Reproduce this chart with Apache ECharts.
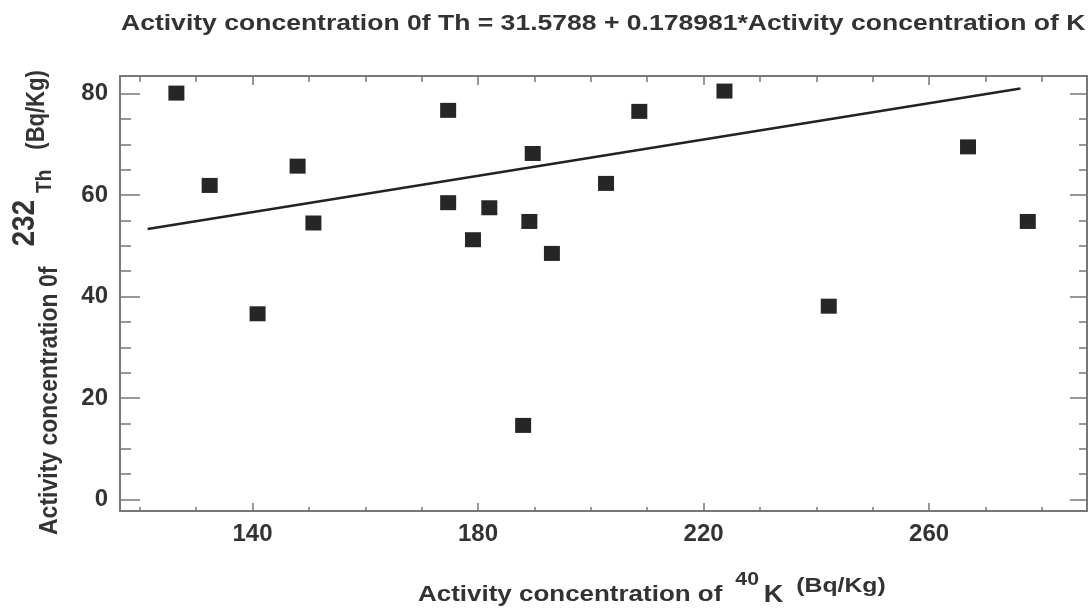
<!DOCTYPE html>
<html><head><meta charset="utf-8">
<script src="https://cdn.jsdelivr.net/npm/echarts@6/dist/echarts.min.js"></script>
<style>html,body{margin:0;padding:0;background:#fff}#c{width:1089px;height:610px}</style>
</head><body><div id="c"></div>
<script>
// Data
const kValues  = [126.5, 132.4, 140.9, 148.0, 150.8, 174.7, 174.7, 179.1, 182.0, 188.0, 189.1, 189.7, 193.1, 202.7, 208.6, 223.7, 242.2, 266.9, 277.5];
const thValues = [80.1, 61.9, 36.6, 65.7, 54.5, 76.7, 58.5, 51.2, 57.5, 14.6, 54.8, 68.2, 48.5, 62.3, 76.5, 80.5, 38.1, 69.5, 54.8];
const fitK  = [121.4, 276.2];
const fitTh = [53.3, 81.0];
const xMajorTicks = [140, 180, 220, 260];
const xMinorTicks = [120, 130, 150, 160, 170, 190, 200, 210, 230, 240, 250, 270, 280];
const yMajorTicks = [0, 20, 40, 60, 80];
const yMinorTicks = [5, 10, 15, 25, 30, 35, 45, 50, 55, 65, 70, 75];
const titleText = 'Activity concentration 0f Th = 31.5788 + 0.178981*Activity concentration of K';

const X_MIN = 116.5, X_MAX = 288, Y_MIN = -2.27, Y_MAX = 83.47;
const AX = '#777';
const FONT = 'Liberation Sans';
const TXT = '#333';

function xAx(pos, ticks, len, line, labels) {
  return {
    type: 'value', position: pos, min: X_MIN, max: X_MAX,
    axisLine: { show: line, onZero: false, lineStyle: { color: AX, width: 2 } },
    axisTick: { show: true, inside: true, length: len, customValues: ticks, lineStyle: { color: AX, width: 1.5 } },
    axisLabel: labels ? { show: true, customValues: ticks, fontSize: 24, fontWeight: 'bold', fontFamily: FONT, color: TXT, margin: 11 } : { show: false },
    splitLine: { show: false }
  };
}
function yAx(pos, ticks, len, line, labels) {
  return {
    type: 'value', position: pos, min: Y_MIN, max: Y_MAX,
    axisLine: { show: line, onZero: false, lineStyle: { color: AX, width: 2 } },
    axisTick: { show: true, inside: true, length: len, customValues: ticks, lineStyle: { color: AX, width: 1.5 } },
    axisLabel: labels ? { show: true, customValues: ticks, fontSize: 24, fontWeight: 'bold', fontFamily: FONT, color: TXT, margin: 12 } : { show: false },
    splitLine: { show: false }
  };
}

const chart = echarts.init(document.getElementById('c'), null, { renderer: 'canvas' });
chart.setOption({
  animation: false,
  backgroundColor: '#fff',
  grid: { left: 120, top: 76, right: 2, bottom: 99, containLabel: false },
  xAxis: [
    xAx('bottom', xMajorTicks, 8, true, true),
    xAx('bottom', xMinorTicks, 4, false, false),
    xAx('top', xMajorTicks, 9, true, false),
    xAx('top', xMinorTicks, 6, false, false)
  ],
  yAxis: [
    yAx('left', yMajorTicks, 20, true, true),
    yAx('left', yMinorTicks, 11, false, false),
    yAx('right', yMajorTicks, 17, true, false),
    yAx('right', yMinorTicks, 8, false, false)
  ],
  series: [
    {
      type: 'line', xAxisIndex: 0, yAxisIndex: 0,
      data: fitK.map((k, i) => [k, fitTh[i]]),
      showSymbol: false, symbol: 'none',
      lineStyle: { color: '#222', width: 2.5 }, z: 2
    },
    {
      type: 'scatter', xAxisIndex: 0, yAxisIndex: 0,
      data: kValues.map((k, i) => [k, thValues[i]]),
      symbol: 'rect', symbolSize: [16, 15],
      itemStyle: { color: '#262626', opacity: 1 }, z: 3
    }
  ],
  graphic: [
    {
      type: 'text', x: 121, y: 23.5, scaleX: 1.206,
      style: {
        text: titleText, fontSize: 22, fontWeight: 'bold', fontFamily: FONT, fill: TXT,
        align: 'left', verticalAlign: 'middle', textAlign: 'left', textVerticalAlign: 'middle'
      }
    },
    {
      type: 'text', x: 418, y: 595.4, scaleX: 1.18,
      style: {
        text: '{m|Activity concentration of}{s|40}{k|K}{u|(Bq/Kg)}',
        fill: TXT, fontFamily: FONT, fontWeight: 'bold', fontSize: 22,
        align: 'left', verticalAlign: 'middle', textAlign: 'left', textVerticalAlign: 'middle',
        rich: {
          m: { fontSize: 22, fontWeight: 'bold', fontFamily: FONT, padding: [0, 11, 0, 0], verticalAlign: 'middle' },
          s: { fontSize: 18, fontWeight: 'bold', fontFamily: FONT, padding: [0, 4, 31, 0], verticalAlign: 'middle' },
          k: { fontSize: 23, fontWeight: 'bold', fontFamily: FONT, padding: [1, 11, 0, 0], verticalAlign: 'middle' },
          u: { fontSize: 21, fontWeight: 'bold', fontFamily: FONT, padding: [0, 0, 18, 0], verticalAlign: 'middle' }
        }
      }
    },
    {
      type: 'text', x: 50, y: 535, rotation: Math.PI / 2, scaleY: 1.15,
      style: {
        text: '{m|Activity concentration 0f}{s|232}{t|Th}{u|(Bq/Kg)}',
        fill: TXT, fontFamily: FONT, fontWeight: 'bold', fontSize: 23,
        align: 'left', verticalAlign: 'middle', textAlign: 'left', textVerticalAlign: 'middle',
        rich: {
          m: { fontSize: 23, fontWeight: 'bold', fontFamily: FONT, padding: [0, 20, 0, 0], verticalAlign: 'middle' },
          s: { fontSize: 28, fontWeight: 'bold', fontFamily: FONT, padding: [0, 7, 43, 0], verticalAlign: 'middle' },
          t: { fontSize: 19, fontWeight: 'bold', fontFamily: FONT, padding: [0, 20, 9, 0], verticalAlign: 'middle' },
          u: { fontSize: 22, fontWeight: 'bold', fontFamily: FONT, padding: [0, 0, 22, 0], verticalAlign: 'middle' }
        }
      }
    }
  ]
});
</script>
</body></html>
